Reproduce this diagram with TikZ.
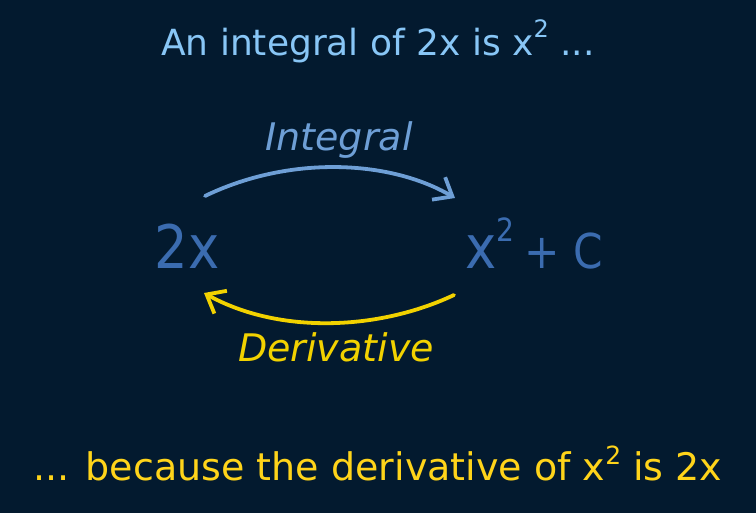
\documentclass[tikz,border=0pt]{standalone}
\usepackage{fontspec}
\setmainfont{DejaVu Sans}
\newfontfamily\midfont{DejaVu Sans}[FakeStretch=0.88]
\usetikzlibrary{arrows.meta}
\definecolor{bg}{HTML}{031A2F}
\definecolor{toptext}{HTML}{88C6F6}
\definecolor{midblue}{HTML}{3B6CB0}
\definecolor{arrblue}{HTML}{6E9FD6}
\definecolor{ylw}{HTML}{F2D200}
\definecolor{btmylw}{HTML}{FFD41A}
\newcommand{\sq}[2]{\raisebox{#2}{\fontsize{#1}{#1}\selectfont 2}}
\tikzset{
  lbl/.style={inner sep=0pt, anchor=base},
  curvarrow/.style={line width=3.8pt, line cap=round, -{Straight Barb[length=16pt,width=26pt,line width=3.8pt]}},
}
\begin{document}
\begin{tikzpicture}[x=1pt,y=-1pt]
\fill[bg] (0,0) rectangle (756,513);
\useasboundingbox (0,0) rectangle (756,513);
\node[lbl, text=toptext, font=\fontsize{36}{40}\selectfont] (top) at (378,56) {An integral of 2x is x\sq{24}{18pt} ...};
\node[lbl, text=midblue, font=\midfont\fontsize{60}{70}\selectfont] (a) at (187,269) {2x};
\node[lbl, text=midblue, font=\midfont\fontsize{60}{70}\selectfont] (b) at (534,269) {x\raisebox{27pt}{\fontsize{32}{32}\selectfont 2}\,{\fontsize{48}{50}\selectfont + C}};
\node[lbl, text=arrblue, font=\itshape\fontsize{38}{46}\selectfont] (int) at (339,151) {Integral};
\node[lbl, text=ylw, font=\itshape\fontsize{38}{46}\selectfont] (der) at (336,362) {Derivative};
\node[lbl, text=btmylw, font=\fontsize{38}{44}\selectfont] (bot) at (378,480) {... because the derivative of x\sq{25}{16pt} is 2x};
\coordinate (i1) at (205,196);
\coordinate (i2) at (455,198);
\coordinate (d1) at (454,295);
\coordinate (d2) at (204,293);
\draw[arrblue, curvarrow] (i1) .. controls (290,155) and (390,160) .. (i2);
\draw[ylw, curvarrow] (d1) .. controls (380,330) and (280,335) .. (d2);
\end{tikzpicture}
\end{document}
